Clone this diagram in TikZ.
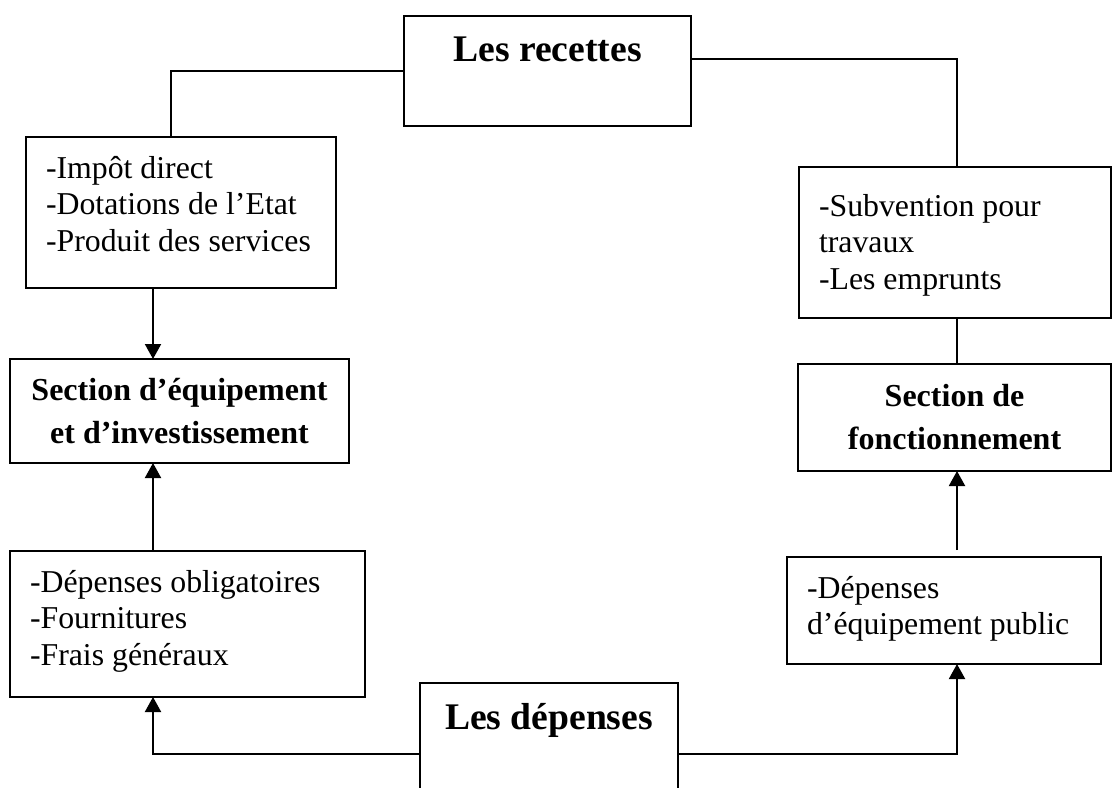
\documentclass[tikz,border=0pt]{standalone}
\usepackage{fontspec}
\setmainfont{Liberation Serif}
\usetikzlibrary{arrows.meta}
\newcommand{\plaintext}{\fontsize{15.9pt}{18.25pt}\selectfont}
\newcommand{\secttext}{\fontsize{16pt}{21.5pt}\selectfont\bfseries}
\newcommand{\headtext}{\fontsize{18.8pt}{22pt}\selectfont\bfseries}
% text set at the top of a box: width, height, gap above, lines
\newcommand{\toplines}[4]{\parbox[t][#2][t]{#1}{\leftskip=10pt\vspace*{#3}#4}}
\newcommand{\topcentre}[4]{\parbox[t][#2][t]{#1}{\centering\vspace*{#3}#4}}
\tikzstyle{listbox} = [rectangle, draw=black, line width=1pt, anchor=north west, inner sep=0pt, outer sep=0pt, font=\plaintext]
\tikzstyle{headbox} = [listbox, font=\headtext]
\tikzstyle{sectbox} = [rectangle, draw=black, line width=1pt, anchor=north west, outer sep=0pt, align=center, font=\secttext]
\tikzstyle{link} = [line width=1pt]
\tikzstyle{arr} = [-{Triangle[length=7.5pt, width=8pt]}, line width=1pt]
\begin{document}
\begin{tikzpicture}[x=0.5pt, y=-0.5pt]
\useasboundingbox (0,0) rectangle (1112,787);
\clip (0,0) rectangle (1112,787);

\node[headbox] (rec) at (404,16) {\topcentre{143.5pt}{55pt}{10.5pt}{Les recettes}};
\node[listbox] (impot) at (26,137) {\toplines{155pt}{75.5pt}{9.5pt}{-Impôt direct\\-Dotations de l’Etat\\-Produit des services}};
\node[sectbox, minimum width=169.5pt, minimum height=52pt] (equip) at (10,359) {Section d’équipement\\et d’investissement};
\node[listbox] (depob) at (10,551) {\toplines{177.5pt}{73pt}{9.5pt}{-Dépenses obligatoires\\-Fournitures\\-Frais généraux}};
\node[headbox] (dep) at (420,683) {\topcentre{129pt}{60pt}{10pt}{Les dépenses}};
\node[listbox] (subv) at (799,167) {\toplines{156pt}{75.5pt}{13.5pt}{-Subvention pour\\travaux\\-Les emprunts}};
\node[sectbox, minimum width=156.5pt, minimum height=53.5pt] (fonct) at (798,364) {Section de\\fonctionnement};
\node[listbox] (depeq) at (787,557) {\toplines{157pt}{53.5pt}{9.5pt}{-Dépenses\\d’équipement public}};

\coordinate (lcol) at (153,0);
\coordinate (tcol) at (171,0);
\coordinate (rcol) at (957,0);
\coordinate (rrow) at (0,59);
\coordinate (brow) at (0,754);

\draw[link] (rec.west) -| (impot.north -| tcol);
\draw[link] (rec.east |- rrow) -| (subv.north -| rcol);
\draw[arr] (impot.south -| lcol) -- (equip.north -| lcol);
\draw[arr] (depob.north -| lcol) -- (equip.south -| lcol);
\draw[arr] (dep.west |- brow) -| (depob.south -| lcol);
\draw[link] (subv.south -| rcol) -- (fonct.north -| rcol);
\draw[arr, shorten <=3.5pt] (depeq.north -| rcol) -- (fonct.south -| rcol);
\draw[arr] (dep.east |- brow) -| (depeq.south -| rcol);
\end{tikzpicture}
\end{document}
